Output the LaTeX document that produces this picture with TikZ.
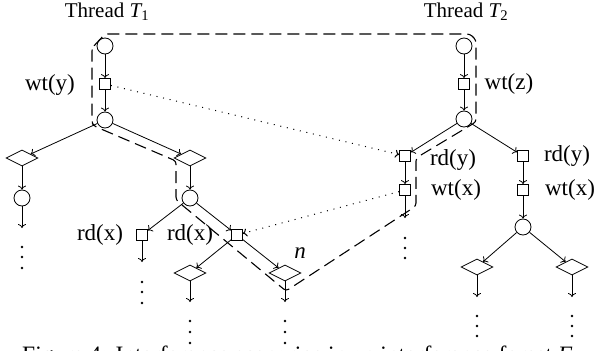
\documentclass[tikz,border=0pt]{standalone}
\usepackage{fontspec}
\setmainfont{Liberation Serif}
\usetikzlibrary{shapes.geometric,arrows.meta}

\tikzset{
  event/.style={draw, line width=0.8pt, rectangle, minimum size=11pt, inner sep=0pt},
  branch/.style={draw, line width=0.8pt, circle, minimum size=16pt, inner sep=0pt},
  split/.style={draw, line width=0.8pt, diamond, minimum width=32pt, minimum height=16pt, inner sep=0pt},
  lbl/.style={font=\fontsize{23}{26}\selectfont, inner sep=0pt},
  thread/.style={font=\fontsize{21}{24}\selectfont, inner sep=0pt},
  edge/.style={line width=0.8pt, -{To[length=4pt,width=8pt]}},
  interf/.style={line width=1pt, dash pattern=on 1pt off 5.7pt, -{To[length=4pt,width=8pt]}},
  region/.style={line width=1.1pt, dash pattern=on 12pt off 6pt, rounded corners=3pt},
  more/.style={fill, circle, minimum size=2.6pt, inner sep=0pt}
}

\begin{document}
\begin{tikzpicture}[x=1pt, y=-1pt]
\clip (0,0) rectangle (595,351);

% thread headers
\node[thread] (h1) at (107,12) {Thread {\itshape T}\textsubscript{1}};
\node[thread] (h2) at (466,12) {Thread {\itshape T}\textsubscript{2}};

% ---- tree of thread T1 ----
\node[branch] (c1) at (105,46) {};
\node[event]  (s1) at (105,84) {};
\node[branch] (c2) at (105,120) {};
\node[split]  (d1) at (22,158) {};
\node[split]  (d2) at (190,158) {};
\node[branch] (c7) at (22,198) {};
\node[branch] (c3) at (190,198) {};
\node[event]  (s2) at (142,235) {};
\node[event]  (s3) at (237,235) {};
\node[split]  (d3) at (190,273) {};
\node[split]  (d4) at (285,273) {};
\coordinate (e1) at (22,228);
\coordinate (e2) at (142,262);
\coordinate (e3) at (190,302);
\coordinate (e4) at (285,302);

% ---- tree of thread T2 ----
\node[branch] (c4) at (464,46) {};
\node[event]  (s4) at (464,84) {};
\node[branch] (c5) at (464,119) {};
\node[event]  (s5) at (405,156) {};
\node[event]  (s6) at (523,156) {};
\node[event]  (s7) at (405,190) {};
\node[event]  (s8) at (523,190) {};
\node[branch] (c6) at (523,227) {};
\node[split]  (d5) at (477,267) {};
\node[split]  (d6) at (572,267) {};
\coordinate (e5) at (405,218);
\coordinate (e6) at (477,297);
\coordinate (e7) at (572,297);

% event labels
\node[lbl] (lwy)  at (50,85)   {wt(y)};
\node[lbl] (lwz)  at (509,84)  {wt(z)};
\node[lbl] (lry1) at (453,160) {rd(y)};
\node[lbl] (lry2) at (567,156) {rd(y)};
\node[lbl] (lwx1) at (456,190) {wt(x)};
\node[lbl] (lwx2) at (570,190) {wt(x)};
\node[lbl] (lrx1) at (100,235) {rd(x)};
\node[lbl] (lrx2) at (190,235) {rd(x)};
\node[lbl] (ln)   at (300,253) {\itshape n};

% program order edges, T1
\draw[edge] (c1) -- (s1);
\draw[edge] (s1) -- (c2);
\draw[edge] (c2) -- (d1);
\draw[edge] (c2) -- (d2);
\draw[edge] (d1) -- (c7);
\draw[edge] (c7) -- (e1);
\draw[edge] (d2) -- (c3);
\draw[edge] (c3) -- (s2);
\draw[edge] (c3) -- (s3);
\draw[edge] (s2) -- (e2);
\draw[edge] (s3) -- (d3);
\draw[edge] (s3) -- (d4);
\draw[edge] (d3) -- (e3);
\draw[edge] (d4) -- (e4);

% program order edges, T2
\draw[edge] (c4) -- (s4);
\draw[edge] (s4) -- (c5);
\draw[edge] (c5) -- (s5);
\draw[edge] (c5) -- (s6);
\draw[edge] (s5) -- (s7);
\draw[edge] (s6) -- (s8);
\draw[edge] (s7) -- (e5);
\draw[edge] (s8) -- (c6);
\draw[edge] (c6) -- (d5);
\draw[edge] (c6) -- (d6);
\draw[edge] (d5) -- (e6);
\draw[edge] (d6) -- (e7);

% continuation dots
\foreach \x/\ya/\yb/\yc in {22/247/257/268, 142/282/292/303, 190/321/332/343,
                            285/321/332/343, 405/238/248/258, 477/316/326/336,
                            572/316/326/336} {
  \node[more] at (\x,\ya) {};
  \node[more] at (\x,\yb) {};
  \node[more] at (\x,\yc) {};
}

% interferences between threads
\draw[interf] (s1) -- (s5);
\draw[interf] (s7) -- (s3);

% interference scenario enclosing the path to n
\draw[region] (92,48) -- (105,34) -- (470,34) -- (476,40) -- (476,122)
  -- (416,158) -- (416,206) -- (286,291) -- (176,200) -- (176,161)
  -- (94,126) -- (92,123) -- cycle;

% caption (runs past the lower edge)
\node[anchor=base west, inner sep=0pt, font=\fontsize{23.5}{26}\selectfont] (cap)
  at (22,362) {Figure 4: Interference scenarios in an interference forest \textit{F}};
\end{tikzpicture}
\end{document}
